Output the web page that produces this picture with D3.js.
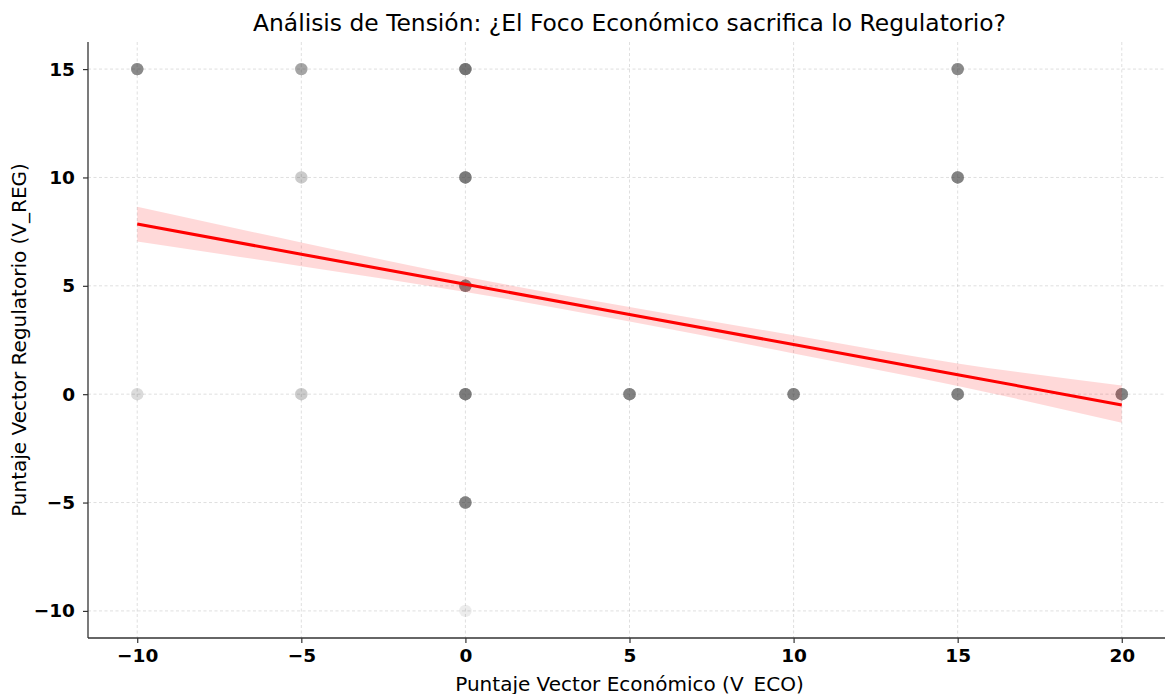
<!DOCTYPE html>
<html><head><meta charset="utf-8">
<script src="https://cdn.jsdelivr.net/npm/d3@7"></script>
<style>body{margin:0;background:#fff;overflow:hidden}svg{display:block;font-family:"DejaVu Sans",sans-serif}</style>
</head><body><svg id="c" width="1165" height="694"></svg>
<script>
// Scatter: unique (V_ECO, V_REG) positions and how many observations sit on each
const ecoVals = [-10, -5, 0, 15, -5, 0, 15, 0, -10, -5, 0, 5, 10, 15, 20, 0, 0];
const regVals = [15, 15, 15, 15, 10, 10, 10, 5, 0, 0, 0, 0, 0, 0, 0, -5, -10];
const counts  = [9, 6, 12, 9, 3, 11, 10, 10, 2, 3, 11, 10, 10, 10, 10, 10, 1];
// Regression fit and 95% CI band
const fitX  = [-10, -5, 0, 5, 10, 15, 20];
const fitY  = [7.85, 6.46, 5.07, 3.68, 2.29, 0.90, -0.50];
const ciLow = [7.05, 5.9, 4.72, 3.35, 1.88, 0.38, -1.32];
const ciHigh= [8.65, 7.0, 5.42, 4.02, 2.72, 1.42, 0.4];
const xTicks = [-10, -5, 0, 5, 10, 15, 20];
const yTicks = [-10, -5, 0, 5, 10, 15];
const title = "Análisis de Tensión: ¿El Foco Económico sacrifica lo Regulatorio?";
const xLabel = "Puntaje Vector Económico (V_ECO)";
const yLabel = "Puntaje Vector Regulatorio (V_REG)";

const svg = d3.select("#c");
const L = 88, R = 1171, T = 42, B = 638;
const x = d3.scaleLinear().domain([-11.5, 21.5]).range([L, R]);
const y = d3.scaleLinear().domain([-11.25, 16.25]).range([B, T]);

// grid
const g = svg.append("g");
g.selectAll(".gx").data(xTicks).join("line")
  .attr("x1", d => x(d)).attr("x2", d => x(d)).attr("y1", T).attr("y2", B)
  .attr("stroke", "#b0b0b0").attr("stroke-opacity", 0.5).attr("stroke-width", 0.8).attr("stroke-dasharray", "3,2.5");
g.selectAll(".gy").data(yTicks).join("line")
  .attr("x1", L).attr("x2", R).attr("y1", d => y(d)).attr("y2", d => y(d))
  .attr("stroke", "#b0b0b0").attr("stroke-opacity", 0.5).attr("stroke-width", 0.8).attr("stroke-dasharray", "3,2.5");

// points
const pts = [];
ecoVals.forEach((e, i) => { for (let k = 0; k < counts[i]; k++) pts.push({x: e, y: regVals[i]}); });
svg.append("g").selectAll("circle").data(pts).join("circle")
  .attr("cx", d => x(d.x)).attr("cy", d => y(d.y)).attr("r", 6.2)
  .attr("fill", "#444").attr("fill-opacity", 0.1);

// CI band
const band = fitX.map((v, i) => ({x: v, lo: ciLow[i], hi: ciHigh[i], m: fitY[i]}));
svg.append("path").datum(band)
  .attr("d", d3.area().x(d => x(d.x)).y0(d => y(d.lo)).y1(d => y(d.hi)).curve(d3.curveMonotoneX))
  .attr("fill", "#ff0000").attr("fill-opacity", 0.15);
svg.append("path").datum(band)
  .attr("d", d3.line().x(d => x(d.x)).y(d => y(d.m)))
  .attr("fill", "none").attr("stroke", "#ff0000").attr("stroke-width", 3);

// axes
const fmt = d => d < 0 ? "\u2212" + Math.abs(d) : d;
const xa = svg.append("g").attr("transform", `translate(0,${B})`)
  .call(d3.axisBottom(x).tickValues(xTicks).tickSize(5).tickPadding(6).tickFormat(fmt));
const ya = svg.append("g").attr("transform", `translate(${L},0)`)
  .call(d3.axisLeft(y).tickValues(yTicks).tickSize(5).tickPadding(8).tickFormat(fmt));
[xa, ya].forEach(a => {
  a.select(".domain").attr("stroke", "#333").attr("stroke-width", 1.3);
  a.selectAll(".tick line").attr("stroke", "#333").attr("stroke-width", 1.2);
  a.selectAll(".tick text").attr("fill", "#000").style("font-size", "18.5px").style("font-weight", "bold").style("font-family", "DejaVu Sans");
});
xa.select(".domain").attr("d", `M${L},0H${R}`);
ya.select(".domain").attr("d", `M0,${T}V${B}`);

// titles
svg.append("text").attr("x", (L + R) / 2).attr("y", 31).attr("text-anchor", "middle")
  .style("font-size", "23.4px").attr("fill", "#000").text(title);
svg.append("text").attr("x", (L + R) / 2).attr("y", 691).attr("text-anchor", "middle")
  .style("font-size", "20px").attr("fill", "#000").text(xLabel);
svg.append("text").attr("transform", `translate(26,${(T + B) / 2}) rotate(-90)`).attr("text-anchor", "middle")
  .style("font-size", "20px").attr("fill", "#000").text(yLabel);
</script></body></html>
